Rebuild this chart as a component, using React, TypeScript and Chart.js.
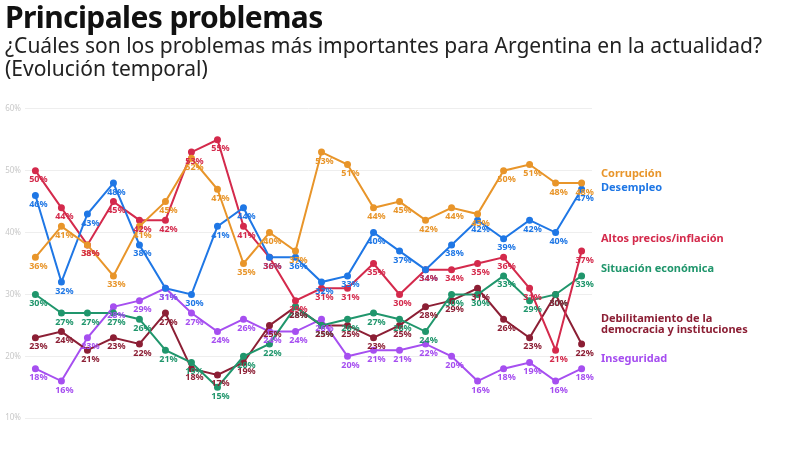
import React, { useEffect, useRef } from "react";
import { Chart, registerables } from "chart.js";
Chart.register(...registerables);

const seriesNames = ["Corrupción", "Desempleo", "Altos precios/inflación", "Situación económica", "Debilitamiento de la|democracia y instituciones", "Inseguridad"];
const colors = ["#e8952a", "#1f77e5", "#d42a4c", "#20966c", "#8c1f35", "#a64ff0"];
const corrupcion = [36, 41, 38, 33, 41, 45, 52, 47, 35, 40, 37, 53, 51, 44, 45, 42, 44, 43, 50, 51, 48, 48];
const desempleo = [46, 32, 43, 48, 38, 31, 30, 41, 44, 36, 36, 32, 33, 40, 37, 34, 38, 42, 39, 42, 40, 47];
const inflacion = [50, 44, 38, 45, 42, 42, 53, 55, 41, 36, 29, 31, 31, 35, 30, 34, 34, 35, 36, 31, 21, 37];
const situacion = [30, 27, 27, 27, 26, 21, 19, 15, 20, 22, 28, 25, 26, 27, 26, 24, 30, 30, 33, 29, 30, 33];
const democracia = [23, 24, 21, 23, 22, 27, 18, 17, 19, 25, 28, 25, 25, 23, 25, 28, 29, 31, 26, 23, 30, 22];
const inseguridad = [18, 16, 23, 28, 29, 31, 27, 24, 26, 24, 24, 26, 20, 21, 21, 22, 20, 16, 18, 19, 16, 18];
const legendY = [49.5, 47.2, 39, 34.2, 26, 19.6];
const yTicks = [10, 20, 30, 40, 50, 60];

const allSeries = [corrupcion, desempleo, inflacion, situacion, democracia, inseguridad];

const labelPlugin = {
  id: "labels",
  afterDatasetsDraw(chart: any) {
    const ctx = chart.ctx;
    const ys = chart.scales.y;
    ctx.save();
    chart.data.datasets.forEach((ds: any, i: number) => {
      const meta = chart.getDatasetMeta(i);
      ctx.fillStyle = colors[i];
      ctx.font = "bold 9px 'Noto Sans', sans-serif";
      ctx.textAlign = "center";
      ctx.textBaseline = "middle";
      meta.data.forEach((pt: any, j: number) => {
        ctx.fillText(Math.round(ds.data[j].y) + "%", pt.x + 3, pt.y + 9);
      });
      ctx.font = "bold 11px 'Noto Sans', sans-serif";
      ctx.textAlign = "left";
      const lines = seriesNames[i].split("|");
      const y0 = ys.getPixelForValue(legendY[i]);
      lines.forEach((l, k) => ctx.fillText(l, 601, y0 + k * 11));
    });
    ctx.restore();
  },
};

export default function App() {
  const ref = useRef<HTMLCanvasElement>(null);
  useEffect(() => {
    const chart = new Chart(ref.current!, {
      type: "line",
      data: {
        datasets: allSeries.map((s, i) => ({
          label: seriesNames[i],
          data: s.map((v, j) => ({ x: j, y: v })),
          borderColor: colors[i],
          backgroundColor: colors[i],
          borderWidth: 2,
          pointRadius: 2.5,
          tension: 0,
        })),
      },
      options: {
        animation: false,
        responsive: false,
        layout: { padding: { top: 0, right: 208, bottom: 0, left: 0 } },
        plugins: { legend: { display: false }, tooltip: { enabled: false } },
        scales: {
          x: { type: "linear", min: -0.4, max: 21.4, display: false },
          y: {
            min: 10, max: 60,
            afterFit: (s: any) => { s.width = 25; },
            afterBuildTicks: (s: any) => { s.ticks = yTicks.map((v) => ({ value: v })); },
            ticks: { callback: (v: any) => v + "%", color: "#c8c8c8", font: { size: 8, family: "'Noto Sans', sans-serif" }, padding: 4 },
            grid: { color: "#eeeeee", drawTicks: false },
            border: { display: false },
          },
        },
      },
      plugins: [labelPlugin],
    });
    return () => chart.destroy();
  }, []);
  return (
    <div style={{ position: "fixed", left: 0, top: 0, width: 800, height: 452, background: "#fff", fontFamily: "'Noto Sans', sans-serif", color: "#111" }}>
      <div style={{ position: "absolute", left: 5, top: -4, fontSize: 30, fontWeight: 700, letterSpacing: -0.6 }}>Principales problemas</div>
      <div style={{ position: "absolute", left: 5, top: 34, fontSize: 21, lineHeight: "23px", color: "#222", whiteSpace: "nowrap" }}>
        ¿Cuáles son los problemas más importantes para Argentina en la actualidad?<br />(Evolución temporal)
      </div>
      <canvas ref={ref} width={800} height={327} style={{ position: "absolute", left: 0, top: 100, width: 800, height: 327 }} />
    </div>
  );
}
